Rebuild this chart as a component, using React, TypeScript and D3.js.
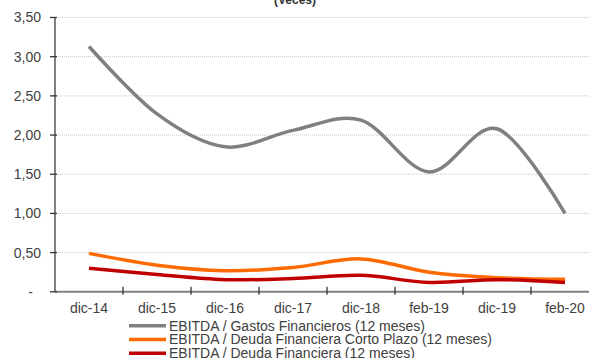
import React from "react";
import * as d3 from "d3";

const categories = ["dic-14", "dic-15", "dic-16", "dic-17", "dic-18", "feb-19", "dic-19", "feb-20"];
const gastosFin = [3.13, 2.27, 1.85, 2.06, 2.19, 1.53, 2.08, 1.0];
const deudaCP = [0.49, 0.34, 0.27, 0.31, 0.42, 0.25, 0.18, 0.16];
const deudaFin = [0.3, 0.22, 0.155, 0.17, 0.21, 0.12, 0.155, 0.12];
const yTicks = [0, 0.5, 1, 1.5, 2, 2.5, 3, 3.5];
const seriesNames = [
  "EBITDA / Gastos Financieros (12 meses)",
  "EBITDA / Deuda Financiera Corto Plazo (12 meses)",
  "EBITDA / Deuda Financiera (12 meses)",
];
const colors = ["#808080", "#FF6A00", "#C00000"];
const title = "(Veces)";

const W = 589;
const H = 358;
const FONT = "'Liberation Sans', Arial, sans-serif";

export default function App() {
  const x = d3.scaleBand<string>().domain(categories).range([55, 599]);
  const y = d3.scaleLinear().domain([0, 3.5]).range([291.8, 17.5]);
  const line = d3
    .line<number>()
    .x((_, i) => (x(categories[i]) as number) + x.bandwidth() / 2)
    .y((d) => y(d))
    .curve(d3.curveCatmullRom.alpha(0));
  const series = [gastosFin, deudaCP, deudaFin];
  const fmt = (v: number) => (v === 0 ? "-" : v.toFixed(2).replace(".", ","));
  const x0 = 55;
  const yBase = y(0);

  return (
    <svg
      width={W}
      height={H}
      style={{ position: "absolute", left: 0, top: 0, background: "#fff" }}
      fontFamily={FONT}
    >
      <text x={295} y={4} textAnchor="middle" fontSize={12} fontWeight="bold" fill="#333">
        {title}
      </text>
      {yTicks.map((t) =>
        t === 0 ? null : (
          <line
            key={"g" + t}
            x1={x0 + 1}
            x2={W}
            y1={y(t)}
            y2={y(t)}
            stroke="#c8c8c8"
            strokeWidth={1}
            strokeDasharray="1,1"
          />
        )
      )}
      <line x1={x0} x2={x0} y1={y(3.5)} y2={yBase} stroke="#808080" strokeWidth={2} />
      <line x1={x0} x2={W} y1={yBase} y2={yBase} stroke="#808080" strokeWidth={2} />
      {yTicks.map((t) => (
        <g key={"yt" + t}>
          <line x1={x0 - 5} x2={x0 + 2} y1={y(t)} y2={y(t)} stroke="#333" strokeWidth={1.3} />
          <text
            x={t === 0 ? 33 : 41}
            y={y(t)}
            dy="0.35em"
            textAnchor="end"
            fontSize={14}
            fill="#404040"
          >
            {fmt(t)}
          </text>
        </g>
      ))}
      {categories.map((c, i) => (
        <g key={"xt" + c}>
          {i > 0 && (
            <line
              x1={x(c) as number}
              x2={x(c) as number}
              y1={yBase - 5}
              y2={yBase + 3}
              stroke="#333"
              strokeWidth={1.3}
            />
          )}
          <text
            x={(x(c) as number) + x.bandwidth() / 2}
            y={308}
            dy="0.35em"
            textAnchor="middle"
            fontSize={14}
            fill="#404040"
          >
            {c}
          </text>
        </g>
      ))}
      {series.map((s, i) => (
        <path
          key={"s" + i}
          d={line(s) as string}
          fill="none"
          stroke={colors[i]}
          strokeWidth={3.5}
          strokeLinejoin="round"
        />
      ))}
      {seriesNames.map((n, i) => {
        const cy = 325.7 + i * 13.8;
        return (
          <g key={"lg" + i}>
            <line x1={129} x2={166} y1={cy} y2={cy} stroke={colors[i]} strokeWidth={3.5} />
            <text x={169} y={cy} dy="0.35em" fontSize={14} fill="#404040">
              {n}
            </text>
          </g>
        );
      })}
    </svg>
  );
}
